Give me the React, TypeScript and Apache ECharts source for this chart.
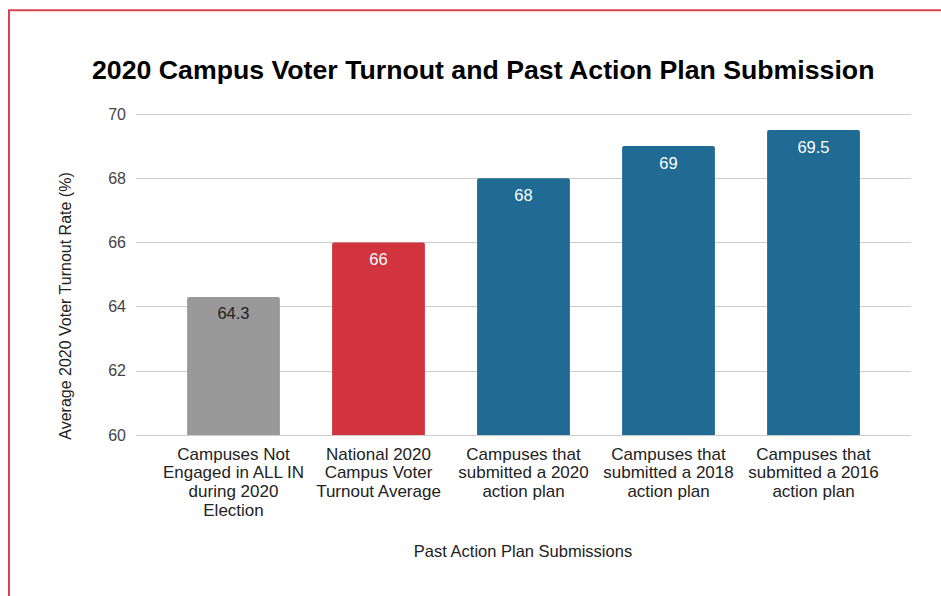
import React, { useEffect, useRef } from "react";
import * as echarts from "echarts";

const categories = [
  "Campuses Not\nEngaged in ALL IN\nduring 2020\nElection",
  "National 2020\nCampus Voter\nTurnout Average",
  "Campuses that\nsubmitted a 2020\naction plan",
  "Campuses that\nsubmitted a 2018\naction plan",
  "Campuses that\nsubmitted a 2016\naction plan",
];
const values = [64.3, 66, 68, 69, 69.5];
const barColors = ["#999999", "#d1343f", "#1f6b93", "#1f6b93", "#1f6b93"];
const labelColors = ["#222222", "#ffffff", "#ffffff", "#ffffff", "#ffffff"];
const titleText = "2020 Campus Voter Turnout and Past Action Plan Submission";
const yAxisTitle = "Average 2020 Voter Turnout Rate (%)";
const xAxisTitle = "Past Action Plan Submissions";

const FONT = "'Liberation Sans', Arial, sans-serif";

export default function App() {
  const ref = useRef<HTMLDivElement>(null);
  useEffect(() => {
    if (!ref.current) return;
    const chart = echarts.init(ref.current, undefined, { renderer: "svg" });
    chart.setOption({
      animation: false,
      backgroundColor: "#ffffff",
      textStyle: { fontFamily: FONT },
      title: {
        text: titleText,
        left: 87,
        top: 51,
        textStyle: { fontFamily: FONT, fontSize: 26.7, fontWeight: "bold", color: "#000000" },
      },
      grid: [
        { left: 136, right: 30, top: 114, bottom: 161, containLabel: false },
        { left: 161, right: 55, top: 114, bottom: 161, containLabel: false },
      ],
      xAxis: [
        {
          type: "category",
          gridIndex: 0,
          data: categories,
          show: false,
        },
        {
          type: "category",
          gridIndex: 1,
          data: categories,
          axisLine: { show: false },
          axisTick: { show: false },
          axisLabel: {
            fontFamily: FONT,
            fontSize: 17,
            lineHeight: 18.6,
            color: "#222222",
            margin: 10,
            interval: 0,
            align: "center",
          },
        },
      ],
      yAxis: [
        {
          type: "value",
          gridIndex: 0,
          min: 60,
          max: 70,
          interval: 2,
          axisLine: { show: false },
          axisTick: { show: false },
          splitLine: { lineStyle: { color: "#cccccc", width: 1 } },
          axisLabel: { fontFamily: FONT, fontSize: 16, color: "#444444", margin: 10 },
        },
        {
          type: "value",
          gridIndex: 1,
          min: 60,
          max: 70,
          interval: 2,
          show: false,
          splitLine: { show: false },
        },
      ],
      series: [
        {
          type: "bar",
          xAxisIndex: 1,
          yAxisIndex: 1,
          barWidth: "64%",
          data: values.map((v, i) => ({
            value: v,
            itemStyle: { color: barColors[i], borderRadius: [2, 2, 0, 0] },
            label: { color: labelColors[i] },
          })),
          label: {
            show: true,
            position: "insideTop",
            distance: 8,
            fontFamily: FONT,
            fontSize: 16.5,
          },
        },
      ],
      graphic: [
        {
          type: "rect",
          shape: { x: 9, y: 10.3, width: 1000, height: 700 },
          style: { fill: "none", stroke: "#d9434f", lineWidth: 2 },
          silent: true,
        },
        {
          type: "text",
          x: 65,
          y: 306,
          rotation: Math.PI / 2,
          style: {
            text: yAxisTitle,
            fontFamily: FONT,
            fontSize: 16,
            fill: "#222222",
            align: "center",
            verticalAlign: "middle",
          },
        },
        {
          type: "text",
          x: 523,
          y: 551,
          style: {
            text: xAxisTitle,
            fontFamily: FONT,
            fontSize: 16.5,
            fill: "#222222",
            align: "center",
            verticalAlign: "middle",
          },
        },
      ],
    });
    return () => chart.dispose();
  }, []);
  return (
    <div
      ref={ref}
      style={{ position: "fixed", left: 0, top: 0, width: 941, height: 596 }}
    />
  );
}
